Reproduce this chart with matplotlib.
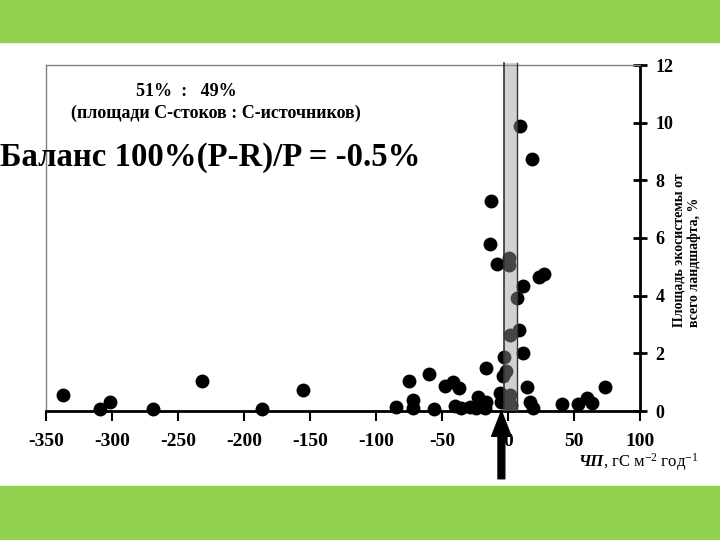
import matplotlib

matplotlib.use("Agg")
import matplotlib.pyplot as plt
from matplotlib.patches import Rectangle

plt.rcParams["font.family"] = ["Liberation Serif", "DejaVu Serif"]
plt.rcParams["mathtext.fontset"] = "custom"
plt.rcParams["mathtext.rm"] = "Liberation Serif"
plt.rcParams["mathtext.it"] = "Liberation Serif:italic"
plt.rcParams["axes.unicode_minus"] = False

# NEP (gC m-2 yr-1) vs share of ecosystem area in landscape (%)
nep = [
    -337, -309, -301.5, -268.8, -231.5, -186.7, -155.5,
    -84.8, -74.7, -72.1, -72.1, -59.5, -56.2, -48.1, -41.7, -37.5, -40.5,
    -35.4, -29.1, -22.7, -20.2, -24.0, -16.4, -17.7, -16.4,
    -12.6, -13.6, -8.1, 0.8, 0.8, -3.0, -3.7, -1.2, -6.3, 1.3, 2.6, -5.0, 0.5,
    9.2, 18.3, 23.3, 27.4, 11.2, 6.6, 8.7, 1.6, 11.5, 14.6, 16.5, 19.1,
    40.6, 53.3, 59.6, 63.4, 73.5,
]
area = [
    0.56, 0.07, 0.31, 0.07, 1.04, 0.07, 0.73,
    0.15, 1.05, 0.38, 0.09, 1.28, 0.06, 0.88, 1.00, 0.79, 0.18,
    0.09, 0.15, 0.50, 0.27, 0.09, 0.32, 0.09, 1.50,
    7.29, 5.79, 5.09, 5.30, 5.07, 1.89, 1.22, 1.40, 0.61, 0.56, 0.21, 0.32, 0.25,
    9.87, 8.74, 4.66, 4.74, 4.33, 3.93, 2.81, 2.64, 2.00, 0.83, 0.32, 0.09,
    0.24, 0.24, 0.46, 0.27, 0.84,
]
band = (-3.3, 6.7)
arrow_x = -5
xticks = [-350, -300, -250, -200, -150, -100, -50, 0, 50, 100]
yticks = [0, 2, 4, 6, 8, 10, 12]

green = "#92d050"

fig = plt.figure(figsize=(7.2, 5.4), dpi=100)
fig.patches.append(Rectangle((0, 1 - 42 / 540), 1, 42 / 540, transform=fig.transFigure, color=green, zorder=0))
fig.patches.append(Rectangle((0, 0), 1, 54 / 540, transform=fig.transFigure, color=green, zorder=0))

ax = fig.add_axes([46 / 720, 129 / 540, 594 / 720, 346 / 540])
ax.scatter(nep, area, s=100, color="black", linewidths=0, zorder=2, clip_on=False)
ax.axvspan(band[0], band[1], ymax=1.006, facecolor="#9b9b9b", alpha=0.45, edgecolor="none", zorder=3, clip_on=False)
ax.axvline(band[0], ymax=1.006, color="#333333", lw=1.2, zorder=4, clip_on=False)
ax.axvline(band[1], ymax=1.006, color="#333333", lw=1.0, zorder=4, clip_on=False)

ax.set_xlim(-350, 100)
ax.set_ylim(0, 12)
ax.set_xticks(xticks)
ax.set_yticks(yticks)
ax.yaxis.tick_right()

for side in ("left", "top"):
    ax.spines[side].set_color("#808080")
    ax.spines[side].set_linewidth(1)
for side in ("bottom", "right"):
    ax.spines[side].set_color("black")
    ax.spines[side].set_linewidth(2)

ax.tick_params(axis="x", direction="out", length=7, width=1.5, pad=9, labelsize=14)
ax.tick_params(axis="y", direction="inout", length=10, width=2, pad=6, labelsize=13)
for lab in ax.get_xticklabels() + ax.get_yticklabels():
    lab.set_fontweight("bold")

ax.annotate("", xy=(arrow_x, 0), xytext=(arrow_x, -2.35),
            arrowprops=dict(arrowstyle="simple,head_length=1.3,head_width=1.0,tail_width=0.35",
                            fc="black", ec="black", shrinkA=0, shrinkB=0, mutation_scale=14),
            annotation_clip=False, zorder=5)

fig.text(186 / 720, 1 - 91 / 540, "51%  :   49%", ha="center", va="center", fontsize=13, fontweight="bold")
fig.text(216 / 720, 1 - 113 / 540, "(площади С-стоков : С-источников)", ha="center", va="center",
         fontsize=13, fontweight="bold")
fig.text(0.0, 1 - 158 / 540, "Баланс 100%(P-R)/P = -0.5%", ha="left", va="center", fontsize=23.6, fontweight="bold")

fig.text(687 / 720, 1 - 327 / 540, "Площадь экосистемы от\nвсего ландшафта, %", rotation=90,
         ha="center", va="bottom", multialignment="left", fontsize=10, fontweight="bold")

fig.text(578 / 720, 1 - 462 / 540, "ЧП", ha="left", va="center", fontsize=12, fontweight="bold", style="italic")
fig.text(603 / 720, 1 - 462 / 540, ", гС м$^{-2}$ год$^{-1}$", ha="left", va="center", fontsize=12)

fig.savefig("out.png", dpi=100)
